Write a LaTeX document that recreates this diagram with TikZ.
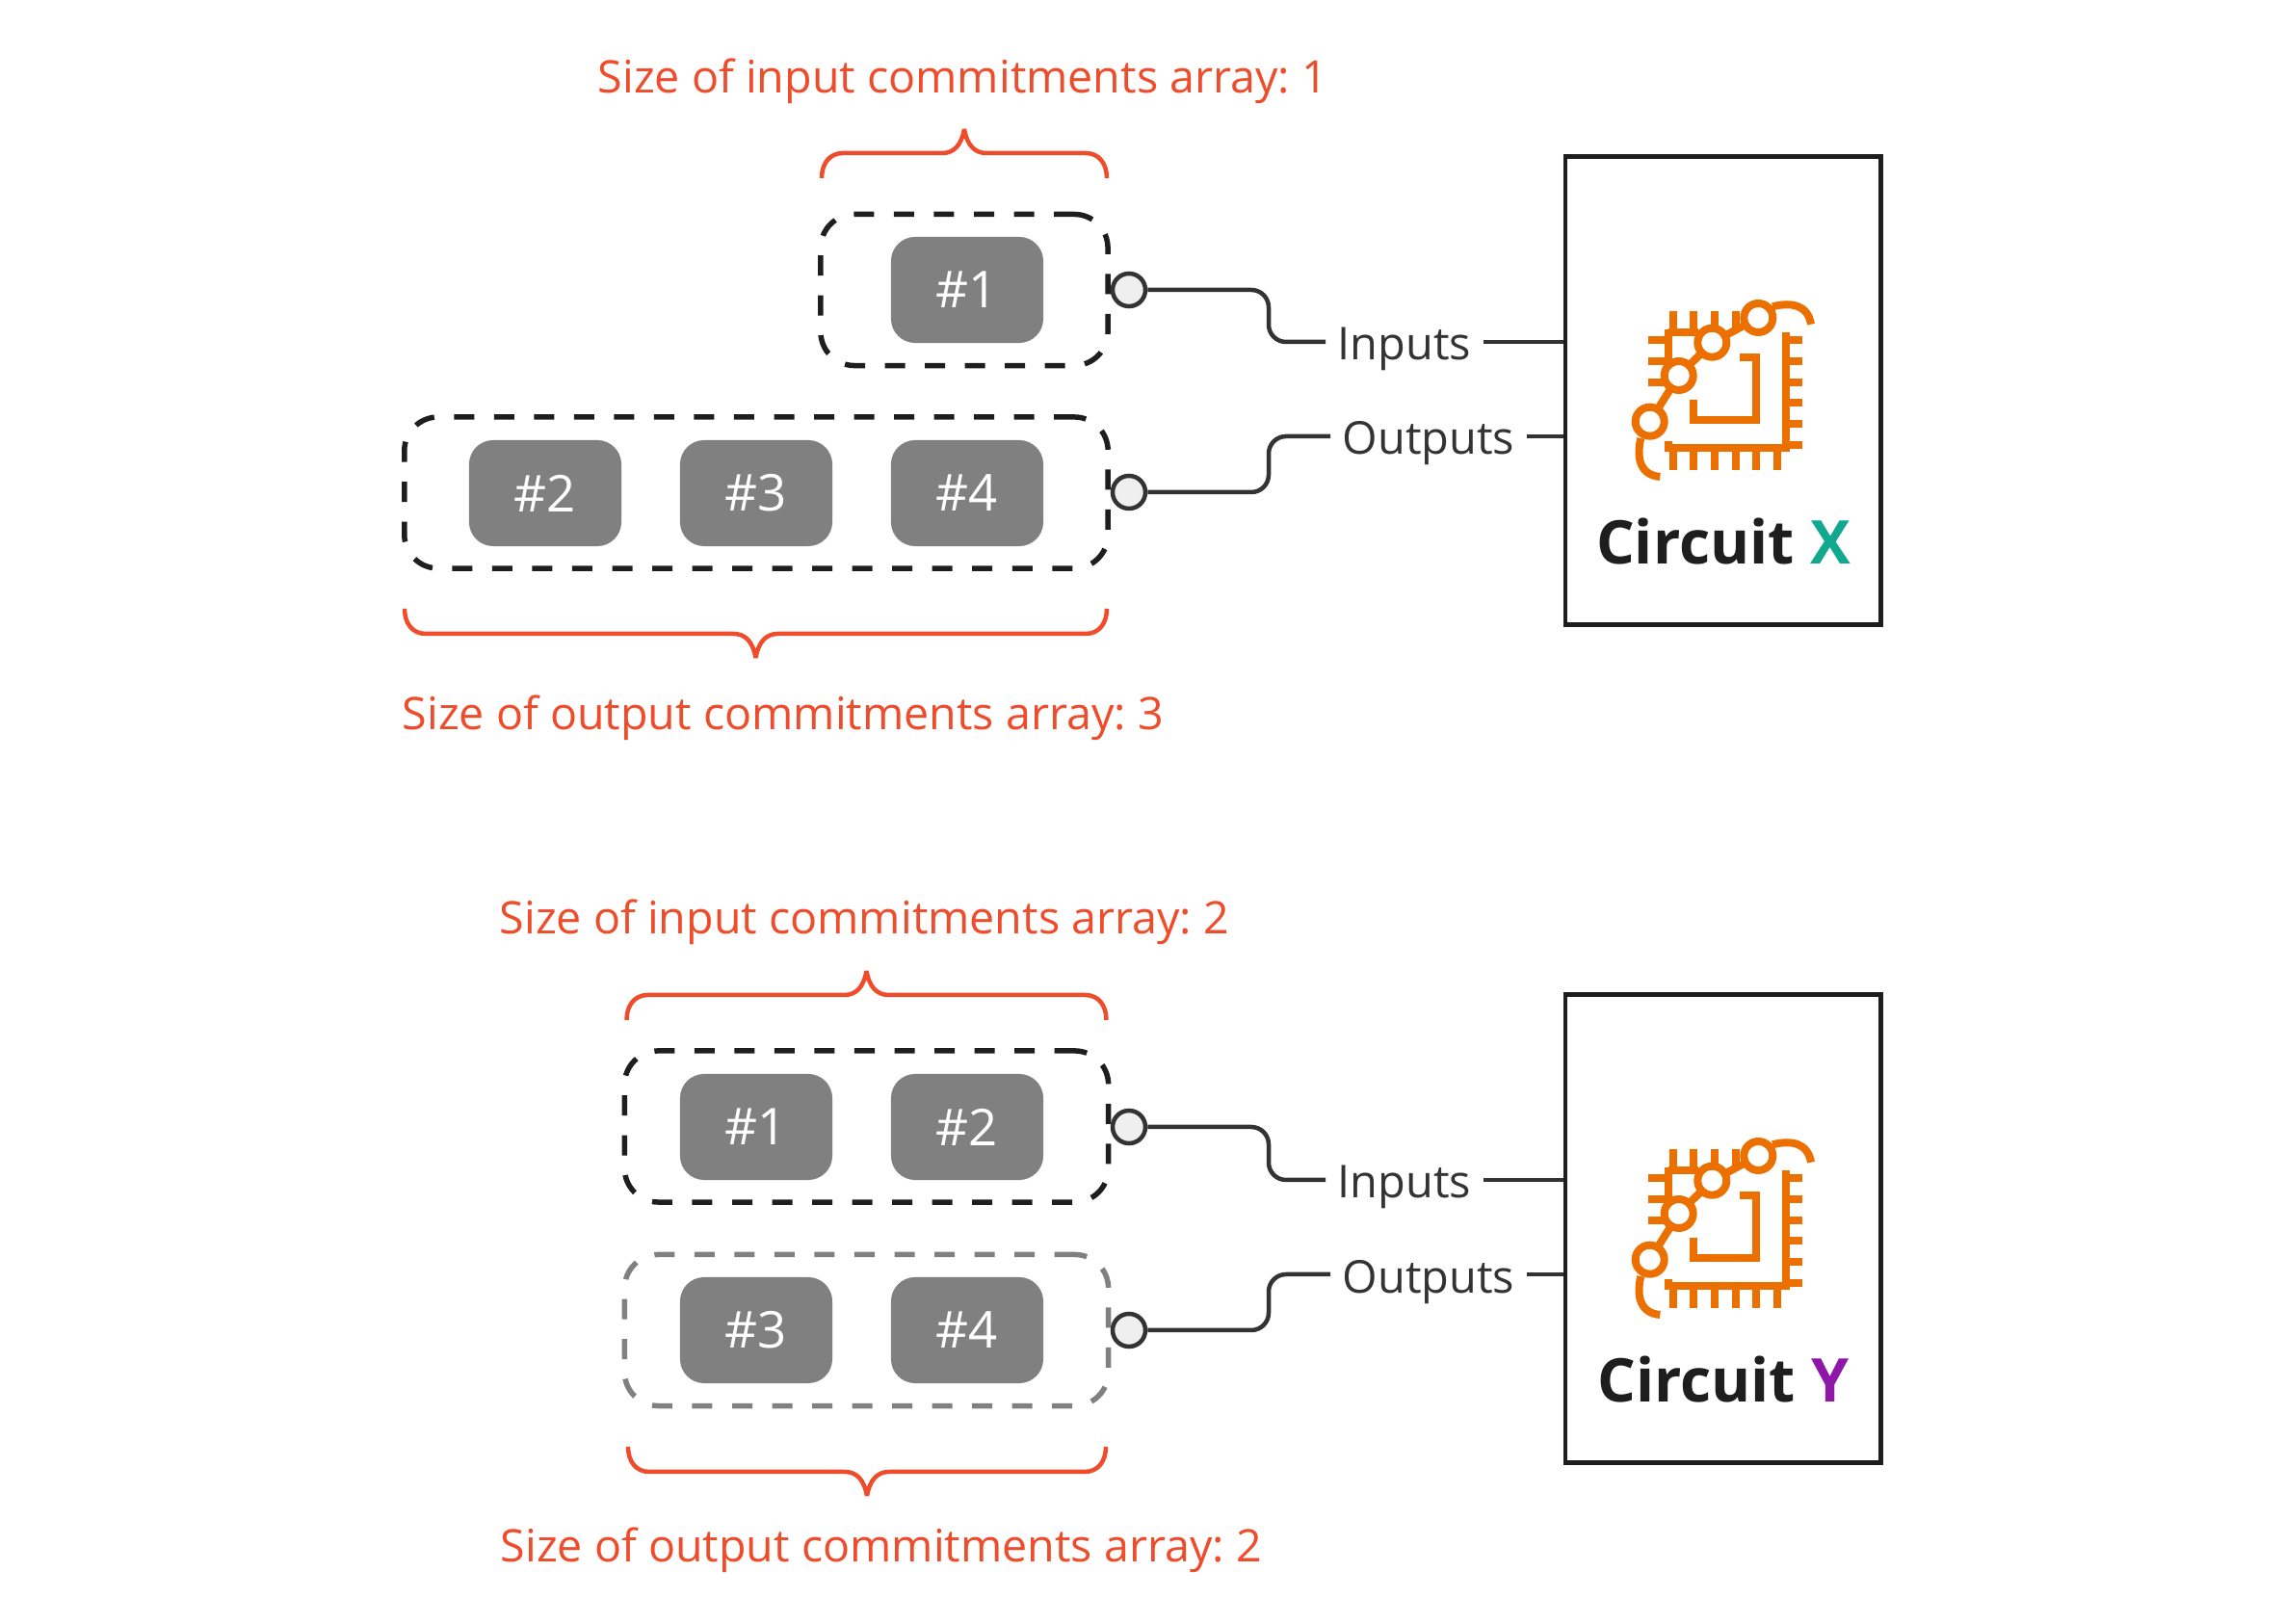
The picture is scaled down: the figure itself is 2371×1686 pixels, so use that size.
\documentclass[tikz,border=0pt]{standalone}
\usepackage{fontspec}
\setmainfont{Open Sans}
\definecolor{SizeRed}{HTML}{EE4C2A}
\definecolor{ChipOrange}{HTML}{EB7000}
\definecolor{SlotGray}{HTML}{808080}
\definecolor{InkDark}{HTML}{1E1E1E}
\definecolor{LinkDark}{HTML}{333333}
\definecolor{PortFill}{HTML}{EFEFEF}
\definecolor{XGreen}{HTML}{10A88E}
\definecolor{YPurple}{HTML}{8E17A8}
\usetikzlibrary{calc}

\tikzset{
  chipicon/.pic={
    \draw[ChipOrange, line width=0.08cm]
      (181,207.7) -- (198.3,207.7) -- (198.3,273) -- (133.3,273) -- (133.3,252)
      (107.3,178.7) -- (107.3,233.7) (107.3,182) -- (138.3,182)
      (107.3,295.3) -- (107.3,302) -- (229,302) -- (229,182);
    % Pins
    \foreach \y in {190.3,212,233.7}
      \draw[ChipOrange, line width=0.08cm] (86,\y) -- (107.3,\y);
    \foreach \x in {111.7,133.3,155,176.7}
      \draw[ChipOrange, line width=0.08cm] (\x,160.3) -- (\x,180.3);
    \foreach \x in {111.7,133.3,155,176.7,198.3,220}
      \draw[ChipOrange, line width=0.08cm] (\x,305.3) -- (\x,324.7);
    \foreach \y in {190.3,212,233.7,255.3,277,298.7}
      \draw[ChipOrange, line width=0.08cm] (229,\y) -- (245.7,\y);
    % Trace
    \draw[ChipOrange, line width=0.08cm]
      (87.7,274.7) -- (117.7,227) -- (152.3,192.7) -- (200.3,167)
      (215,155.3) .. controls (235,150.3) and (251.7,153.7) .. (255,173.7)
      (78.3,292) .. controls (73.3,313.7) and (78.3,330.3) .. (98.3,332);
    \foreach \x/\y in {87.7/274.7,117.7/227,152.3/192.7,200.3/167}
      \draw[ChipOrange, fill=white, line width=0.08cm] (\x,\y) circle (15);
  },
  % tip at the origin, #1 is half the width
  sizebrace/.pic={
    \draw[draw=SizeRed, line width=0.045cm, line join=bevel]
      ({-#1},51) .. controls ({-#1},36) and ({-#1+8},25) .. ({-#1+22},25) -- (-23,25)
      .. controls (-11,25) and (-3,17) .. (0,0)
      .. controls (3,17) and (11,25) .. (23,25) -- ({#1-22},25)
      .. controls ({#1-8},25) and ({#1},36) .. ({#1},51);
  }
}

\begin{document}
\frenchspacing
\begin{tikzpicture}[x=0.01cm, y=-0.01cm,
    slot/.style={rounded corners=0.25cm, fill=SlotGray, text=white,
                 font=\fontsize{15}{17}\selectfont, inner sep=0pt,
                 minimum width=1.58cm, minimum height=1.1cm},
    group/.style={draw=InkDark, rounded corners=0.35cm, line width=0.055cm,
                  dash pattern=on 0.21cm off 0.205cm, inner sep=0pt,
                  minimum height=1.57cm},
    port/.style={circle, draw=LinkDark, fill=PortFill, line width=0.045cm,
                 inner sep=0pt, minimum size=0.34cm},
    link/.style={draw=LinkDark, line width=0.045cm, rounded corners=0.18cm},
    linklabel/.style={text=LinkDark, font=\fontsize{13.35}{15}\selectfont,
                      inner xsep=0.12cm, inner ysep=0pt,
                      text height=0.38cm, text depth=0pt},
    circuit/.style={draw=InkDark, line width=0.048cm, minimum width=3.27cm,
                    inner sep=0pt},
    circuitname/.style={text=InkDark, inner sep=0pt, anchor=base,
                        font=\fontsize{17.8}{20}\selectfont\bfseries},
    sizelabel/.style={text=SizeRed, anchor=base west, inner sep=0pt,
                      font=\fontsize{13.25}{15}\selectfont}]
  \useasboundingbox (0,0) rectangle (2371,1686);
  \coordinate (bendx) at (1317,0);

  % Circuit X
  \node[group, minimum width=2.98cm] (inA) at (1001,301) {};
  \node[group, minimum width=7.3cm] (outA) at (785,511.5) {};
  \node[slot] (slotAa) at (1004,301) {\#1};
  \node[slot] (slotAb) at (566,512) {\#2};
  \node[slot] (slotAc) at (785,512) {\#3};
  \node[slot] (slotAd) at (1004,512) {\#4};
  \node[port] (portAi) at (1172,301) {};
  \node[port] (portAo) at (1172,511) {};
  \node[circuit, minimum height=4.85cm] (circuitA) at (1788.5,405.5) {};
  \pic at (1625,163) {chipicon};
  \node[circuitname] (nameA) at (1789,586) {Circuit \textcolor{XGreen}{X}};
  \node[linklabel] (labelAi) at (1458,355) {Inputs};
  \node[linklabel] (labelAo) at (1483,453) {Outputs};
  \draw[link] (portAi.east) -- (portAi.east -| bendx) -- (labelAi.west -| bendx) -- (labelAi.west);
  \draw[link] (portAo.east) -- (portAo.east -| bendx) -- (labelAo.west -| bendx) -- (labelAo.west);
  \draw[link] (labelAi.east) -- (labelAi.east -| circuitA.west);
  \draw[link] (labelAo.east) -- (labelAo.east -| circuitA.west);
  % Sizes
  \pic at (1001,134) {sizebrace=148};
  \pic[yscale=-1] at (784.5,683) {sizebrace=364.5};
  \node[sizelabel] (sizeAi) at (620,97) {Size of input commitments array: 1};
  \node[sizelabel] (sizeAo) at (417,758) {Size of output commitments array: 3};

  % Circuit Y
  \node[group, minimum width=5.02cm] (inB) at (899.5,1169.5) {};
  \node[group, draw=SlotGray, minimum width=5.02cm] (outB) at (899.5,1381) {};
  \node[slot] (slotBa) at (785,1170) {\#1};
  \node[slot] (slotBb) at (1004,1170) {\#2};
  \node[slot] (slotBc) at (785,1381) {\#3};
  \node[slot] (slotBd) at (1004,1381) {\#4};
  \node[port] (portBi) at (1172,1170) {};
  \node[port] (portBo) at (1172,1381) {};
  \node[circuit, minimum height=4.85cm] (circuitB) at (1788.5,1275.5) {};
  \pic at (1625,1033) {chipicon};
  \node[circuitname] (nameB) at (1789,1456) {Circuit \textcolor{YPurple}{Y}};
  \node[linklabel] (labelBi) at (1458,1225) {Inputs};
  \node[linklabel] (labelBo) at (1483,1323) {Outputs};
  \draw[link] (portBi.east) -- (portBi.east -| bendx) -- (labelBi.west -| bendx) -- (labelBi.west);
  \draw[link] (portBo.east) -- (portBo.east -| bendx) -- (labelBo.west -| bendx) -- (labelBo.west);
  \draw[link] (labelBi.east) -- (labelBi.east -| circuitB.west);
  \draw[link] (labelBo.east) -- (labelBo.east -| circuitB.west);
  % Sizes
  \pic at (899.5,1008) {sizebrace=249};
  \pic[yscale=-1] at (900,1553) {sizebrace=248};
  \node[sizelabel] (sizeBi) at (518,970) {Size of input commitments array: 2};
  \node[sizelabel] (sizeBo) at (519,1622) {Size of output commitments array: 2};
\end{tikzpicture}
\end{document}
